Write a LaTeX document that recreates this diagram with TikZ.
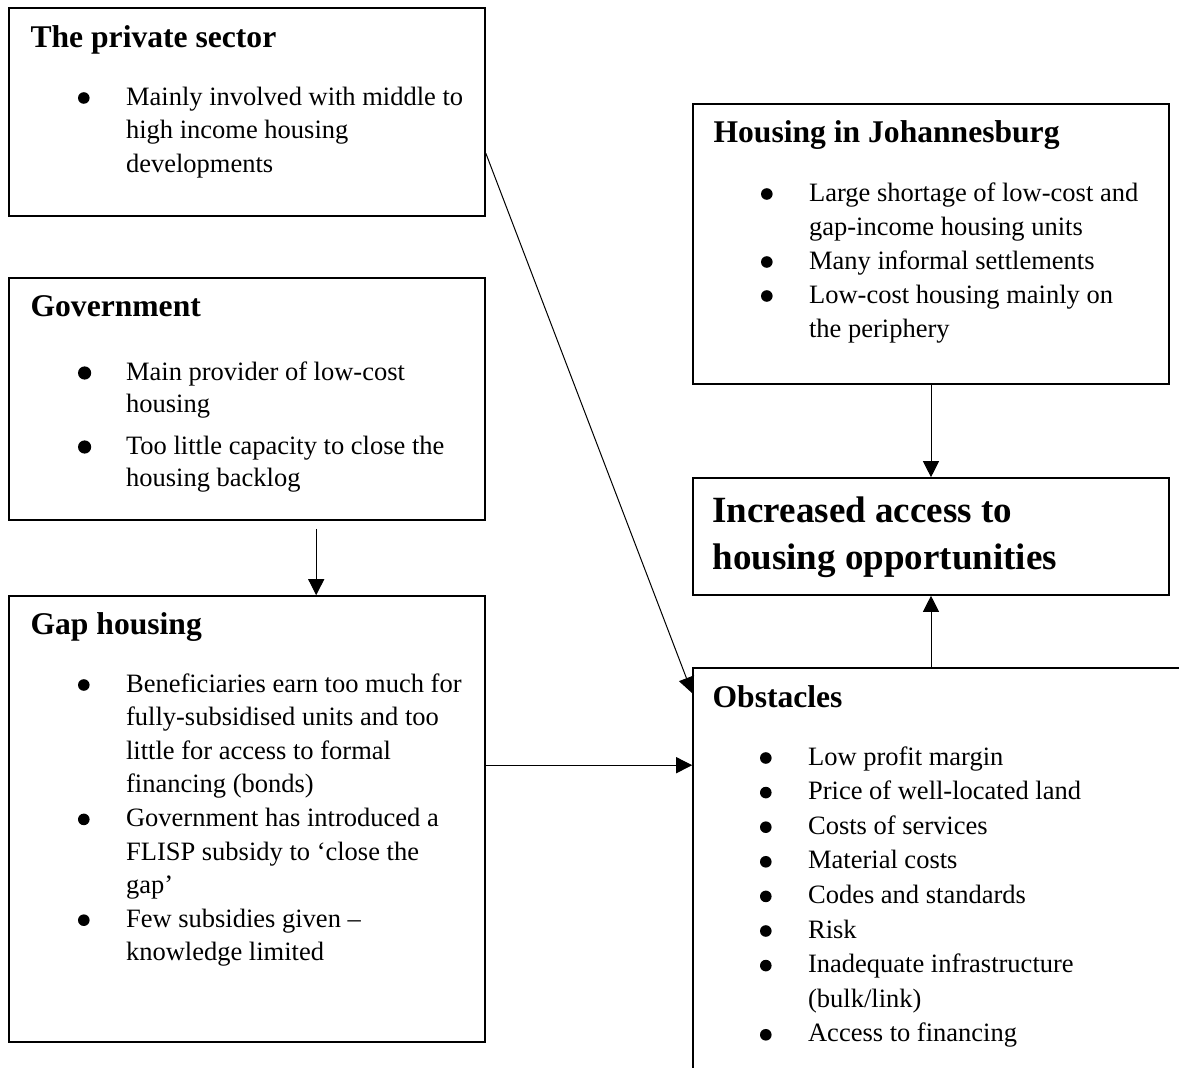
\documentclass[tikz,border=0pt]{standalone}
\usepackage{fontspec}
\setmainfont{Liberation Serif}
\usetikzlibrary{arrows.meta,fit}

\newcommand{\headfont}{\fontsize{15.8pt}{19pt}\selectfont\bfseries}
\newcommand{\dotbul}[1][2.9pt]{\tikz[baseline={(0pt,-3.6pt)}]\fill (0pt,0pt) circle[radius=#1];}
\newcommand{\bul}[1][2.9pt]{\makebox[47.75pt][l]{\hspace{23.7pt}\dotbul[#1]}}
\newcommand{\head}[1]{\multicolumn{2}{@{}l@{}}{\headfont #1}}

\begin{document}
\begin{tikzpicture}[x=0.5pt,y=-0.5pt,
    box/.style={draw,line width=0.8pt,inner sep=0pt},
    txt/.style={anchor=base west,inner sep=0pt,font=\fontsize{13.25pt}{#1}\selectfont},
    arr/.style={draw,line width=0.5pt,-{Triangle[width=8pt,length=8pt]}}]

    \useasboundingbox (0,0) rectangle (1179,1068);
    \clip (0,0) rectangle (1179,1068);

    % boxes
    \node[box,fit={(9,8) (485,216)}] (priv) {};
    \node[box,fit={(9,278) (485,520)}] (gov) {};
    \node[box,fit={(9,596) (485,1042)}] (gap) {};
    \node[box,fit={(693,104) (1169,384)}] (jhb) {};
    \node[box,fit={(693,478) (1169,595)}] (incr) {};
    \node[box,fit={(693,668) (1210,1100)}] (obst) {};

    % texts
    \node[txt=16.75pt] (privtxt) at ([shift={(22,40)}]priv.north west) {%
        \begin{tabular}[t]{@{}l@{}l@{}}
            \head{The private sector}\\[12.25pt]
            \bul & Mainly involved with middle to\\
                 & high income housing\\
                 & developments
        \end{tabular}};
    \node[txt=16pt] (govtxt) at ([shift={(22,39)}]gov.north west) {%
        \begin{tabular}[t]{@{}l@{}l@{}}
            \head{Government}\\[16pt]
            \bul[3.3pt] & Main provider of low-cost\\
                 & housing\\[5pt]
            \bul[3.3pt] & Too little capacity to close the\\
                 & housing backlog
        \end{tabular}};
    \node[txt=16.8pt] (gaptxt) at ([shift={(22,39)}]gap.north west) {%
        \begin{tabular}[t]{@{}l@{}l@{}}
            \head{Gap housing}\\[12.2pt]
            \bul & Beneficiaries earn too much for\\
                 & fully-subsidised units and too\\
                 & little for access to formal\\
                 & financing (bonds)\\
            \bul & Government has introduced a\\
                 & FLISP subsidy to ‘close the\\
                 & gap’\\
            \bul & Few subsidies given --\\
                 & knowledge limited
        \end{tabular}};
    \node[txt=17pt] (jhbtxt) at ([shift={(21,39)}]jhb.north west) {%
        \begin{tabular}[t]{@{}l@{}l@{}}
            \head{Housing in Johannesburg}\\[12.5pt]
            \bul & Large shortage of low-cost and\\
                 & gap-income housing units\\
            \bul & Many informal settlements\\
            \bul & Low-cost housing mainly on\\
                 & the periphery
        \end{tabular}};
    \node[anchor=base west,inner sep=0pt,font=\fontsize{18.5pt}{23.5pt}\selectfont\bfseries]
        (incrtxt) at ([shift={(20,45)}]incr.north west) {%
        \begin{tabular}[t]{@{}l@{}}
            Increased access to\\
            housing opportunities
        \end{tabular}};
    \node[txt=17.3pt] (obsttxt) at ([shift={(20,40)}]obst.north west) {%
        \begin{tabular}[t]{@{}l@{}l@{}}
            \head{Obstacles}\\[11.7pt]
            \bul & Low profit margin\\
            \bul & Price of well-located land\\
            \bul & Costs of services\\
            \bul & Material costs\\
            \bul & Codes and standards\\
            \bul & Risk\\
            \bul & Inadequate infrastructure\\
                 & (bulk/link)\\
            \bul & Access to financing
        \end{tabular}};

    % arrows
    \coordinate (p1) at ([shift={(0,146)}]priv.north east);
    \coordinate (o1) at ([shift={(0,26)}]obst.north west);
    \coordinate (g1) at ([shift={(308,8)}]gov.south west);
    \coordinate (g2) at ([shift={(0,170)}]gap.north east);
    \draw[arr] (p1) -- (o1);
    \draw[arr] (g1) -- (g1 |- gap.north);
    \draw[arr] (jhb.south) -- (incr.north);
    \draw[arr] (incr.south |- obst.north) -- (incr.south);
    \draw[arr] (g2) -- (g2 -| obst.west);

\end{tikzpicture}
\end{document}
